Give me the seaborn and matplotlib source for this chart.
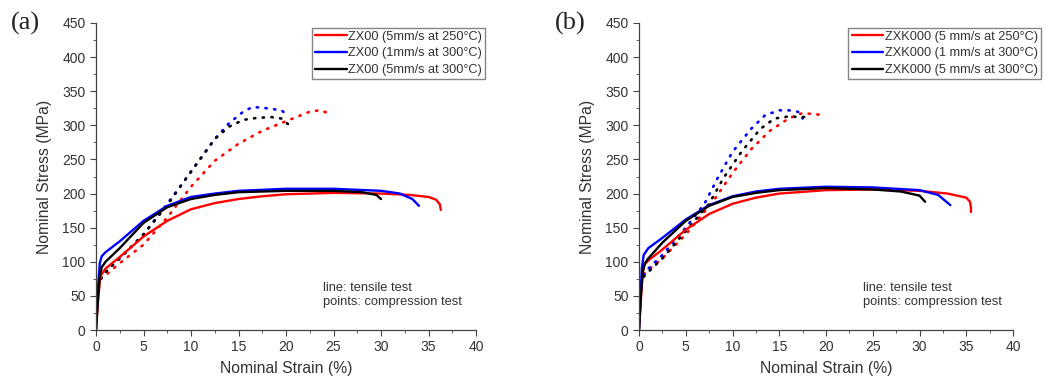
import numpy as np
import pandas as pd
import matplotlib
matplotlib.use("Agg")
import matplotlib.pyplot as plt
import seaborn as sns

# ---------------- data ----------------
# Panel (a) ZX00 tensile (solid)
a_t_red_x = [0, 0.2, 0.4, 0.6, 1.0, 2.5, 5, 7.5, 10, 12.5, 15, 17.5, 20, 25, 30, 33, 35, 35.8, 36.2, 36.3]
a_t_red_y = [0, 40, 72, 82, 90, 107, 137, 160, 177, 186, 192, 196, 199, 201, 200, 198, 195, 191, 184, 176]
a_t_blue_x = [0, 0.2, 0.4, 0.6, 1.0, 2.5, 5, 7.5, 10, 12.5, 15, 20, 25, 30, 32, 33.3, 34.0]
a_t_blue_y = [0, 60, 98, 108, 114, 130, 160, 182, 195, 200, 204, 207, 207, 204, 200, 192, 182]
a_t_black_x = [0, 0.2, 0.4, 0.6, 1.0, 2.5, 5, 7.5, 10, 12.5, 15, 20, 25, 28, 29.5, 30.0]
a_t_black_y = [0, 45, 80, 92, 100, 120, 157, 180, 192, 198, 202, 204, 204, 202, 198, 192]
# Panel (a) ZX00 compression (dotted)
a_c_red_x = [0.5, 1, 2.5, 5, 7.5, 10, 12.5, 15, 17.5, 20, 22.5, 23.5, 24.5]
a_c_red_y = [75, 80, 98, 125, 165, 210, 248, 273, 292, 306, 320, 322, 318]
a_c_blue_x = [0.5, 1, 2.5, 5, 7.5, 10, 12.5, 14, 15.5, 16.5, 18, 19.5, 20]
a_c_blue_y = [75, 85, 105, 140, 185, 232, 280, 303, 320, 327, 325, 322, 317]
a_c_black_x = [0.5, 1, 2.5, 5, 7.5, 10, 12.5, 14, 15.5, 17, 18.5, 19.5, 20.2]
a_c_black_y = [75, 85, 105, 140, 183, 232, 280, 298, 308, 311, 312, 310, 302]

# Panel (b) ZXK000 tensile (solid)
b_t_red_x = [0, 0.2, 0.4, 0.6, 1.0, 2.5, 5, 7.5, 10, 12.5, 15, 20, 25, 30, 33, 35, 35.4, 35.5, 35.5]
b_t_red_y = [0, 45, 85, 96, 102, 118, 147, 170, 185, 194, 200, 205, 206, 204, 200, 194, 188, 180, 173]
b_t_blue_x = [0, 0.2, 0.3, 0.5, 1.0, 2.5, 5, 7.5, 10, 12.5, 15, 20, 25, 30, 32, 33.3]
b_t_blue_y = [0, 60, 90, 110, 120, 135, 162, 183, 196, 203, 207, 210, 209, 205, 198, 183]
b_t_black_x = [0, 0.2, 0.4, 0.6, 1.0, 2.5, 5, 7.5, 10, 12.5, 15, 20, 25, 28, 30, 30.6]
b_t_black_y = [0, 50, 85, 97, 105, 128, 160, 182, 195, 201, 205, 208, 206, 203, 197, 188]
# Panel (b) ZXK000 compression (dotted)
b_c_red_x = [0.5, 1, 2.5, 5, 8, 10, 12, 14, 16, 17.5, 19, 19.8]
b_c_red_y = [82, 88, 105, 140, 190, 230, 265, 292, 310, 318, 316, 315]
b_c_blue_x = [0.5, 1, 2.5, 5, 7, 8.5, 10, 12, 13.5, 15, 16, 17, 17.5]
b_c_blue_y = [80, 90, 110, 150, 185, 225, 261, 295, 315, 322, 322, 320, 310]
b_c_black_x = [0.5, 1, 2.5, 5, 7.5, 9, 11, 13, 14.5, 16, 17.5, 18.2]
b_c_black_y = [78, 85, 105, 145, 185, 222, 262, 295, 310, 313, 312, 313]

labels_a = ["ZX00 (5mm/s at 250°C)", "ZX00 (1mm/s at 300°C)", "ZX00 (5mm/s at 300°C)"]
labels_b = ["ZXK000 (5 mm/s at 250°C)", "ZXK000 (1 mm/s at 300°C)", "ZXK000 (5 mm/s at 300°C)"]
x_ticks = [0, 5, 10, 15, 20, 25, 30, 35, 40]
y_ticks = [0, 50, 100, 150, 200, 250, 300, 350, 400, 450]
colors = ["#ff0000", "#0000ff", "#000000"]

# ---------------- plotting ----------------
sns.set_style("ticks")
plt.rcParams["font.family"] = ["Liberation Sans", "DejaVu Sans"]

fig = plt.figure(figsize=(10.51, 3.81), dpi=100)
ax_a = fig.add_axes([96 / 1051, 51 / 381, 380 / 1051, 307 / 381])
ax_b = fig.add_axes([639 / 1051, 51 / 381, 374 / 1051, 307 / 381])

panels = [
    (ax_a, labels_a,
     [(a_t_red_x, a_t_red_y), (a_t_blue_x, a_t_blue_y), (a_t_black_x, a_t_black_y)],
     [(a_c_red_x, a_c_red_y), (a_c_blue_x, a_c_blue_y), (a_c_black_x, a_c_black_y)],
     "(a)", 1.024),
    (ax_b, labels_b,
     [(b_t_red_x, b_t_red_y), (b_t_blue_x, b_t_blue_y), (b_t_black_x, b_t_black_y)],
     [(b_c_red_x, b_c_red_y), (b_c_blue_x, b_c_blue_y), (b_c_black_x, b_c_black_y)],
     "(b)", 1.075),
]

txt = "#333333"
for ax, labels, tens, comp, tag, lx in panels:
    # compression (dotted) first
    for (x, y), c in zip(comp, colors):
        df = pd.DataFrame({"x": x, "y": y})
        sns.lineplot(data=df, x="x", y="y", ax=ax, color=c, sort=False,
                     linewidth=1.9, linestyle=(0, (0.5, 2.8)), dash_capstyle="round",
                     estimator=None, legend=False)
    for (x, y), c, lab in zip(tens, colors, labels):
        df = pd.DataFrame({"x": x, "y": y})
        sns.lineplot(data=df, x="x", y="y", ax=ax, color=c, sort=False,
                     linewidth=1.7, estimator=None, label=lab)
    ax.set_xlim(0, 40)
    ax.set_ylim(0, 450)
    ax.set_xticks(x_ticks)
    ax.set_yticks(y_ticks)
    ax.set_xticks(np.arange(2.5, 40, 5), minor=True)
    ax.set_yticks(np.arange(25, 450, 50), minor=True)
    ax.tick_params(axis="both", which="major", direction="out", length=4, width=0.8,
                   labelsize=10, labelcolor=txt, color="#444444")
    ax.tick_params(axis="both", which="minor", direction="out", length=2, width=0.6,
                   color="#444444")
    for s in ["left", "bottom"]:
        ax.spines[s].set_color("#444444")
        ax.spines[s].set_linewidth(0.9)
    sns.despine(ax=ax)
    ax.set_xlabel("Nominal Strain (%)", fontsize=11.3, color=txt, labelpad=5)
    ax.set_ylabel("Nominal Stress (MPa)", fontsize=11.3, color=txt, labelpad=7)
    leg = ax.legend(loc="upper right", bbox_to_anchor=(lx, 0.985), fontsize=9.2,
                    frameon=True, fancybox=False, handlelength=2.5, handletextpad=0.1,
                    borderpad=0.25, labelspacing=0.36, borderaxespad=0.0)
    leg.get_frame().set_edgecolor("#666666")
    leg.get_frame().set_linewidth(1.0)
    for t in leg.get_texts():
        t.set_color(txt)
    ax.text(0.598, 0.113, "line: tensile test\npoints: compression test",
            transform=ax.transAxes, fontsize=9.3, color=txt, va="center",
            linespacing=1.25)
    ax.text(-0.225, 1.0, tag, transform=ax.transAxes, fontsize=19,
            family=["Liberation Serif", "DejaVu Serif"], color="#222222", va="center")

fig.savefig("out.png", dpi=100)
